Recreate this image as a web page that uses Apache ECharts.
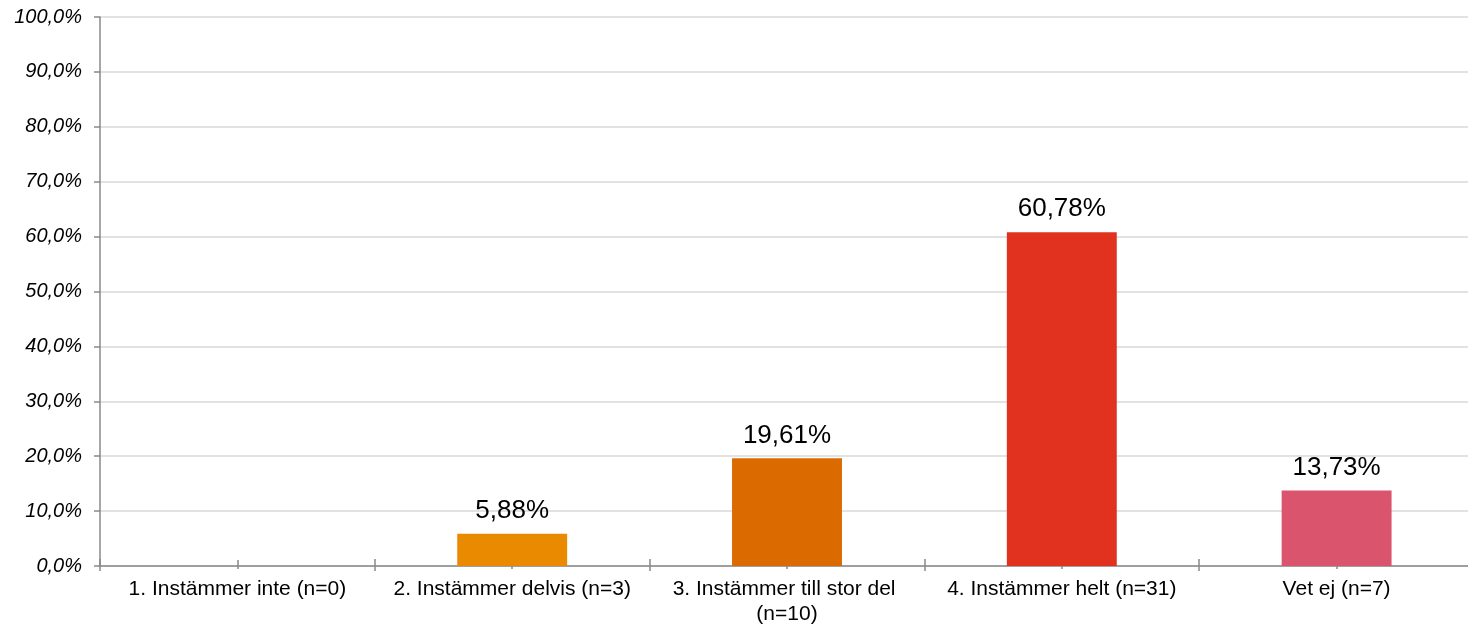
<!DOCTYPE html>
<html>
<head>
<meta charset="utf-8">
<script src="https://cdn.jsdelivr.net/npm/echarts@6/dist/echarts.min.js"></script>
<style>
  html, body { margin: 0; padding: 0; background: #fff; overflow: hidden; }
  /* canvas is a few pixels wider than the page; the plot runs off the right edge */
  #chart { width: 1474px; height: 627px; }
</style>
</head>
<body>
<div id="chart"></div>
<script>
// Answer categories with respondent counts
const categories = [
  '1. Instämmer inte (n=0)',
  '2. Instämmer delvis (n=3)',
  '3. Instämmer till stor del (n=10)',
  '4. Instämmer helt (n=31)',
  'Vet ej (n=7)'
];
// Share of respondents per answer, percent
const shares = [0, 5.88, 19.61, 60.78, 13.73];
// Bar colour per answer
const barColors = ['#EA8A00', '#EA8A00', '#DB6A00', '#E0321F', '#DB546E'];
// Value axis range
const yMin = 0, yMax = 100, yStep = 10;

const FONT = '"Liberation Sans", Arial, sans-serif';
const AXIS_GREY = '#898989';

function commaFixed(v, d) { return v.toFixed(d).replace('.', ','); }

// Extra category axes used only to draw tick marks crossing the baseline
function tickAxis(alignCenter, inside, len) {
  return {
    type: 'category', data: categories, gridIndex: 0, position: 'bottom',
    axisLine: { show: false },
    axisLabel: { show: false },
    splitLine: { show: false },
    axisTick: { show: true, inside: inside, length: len, alignWithLabel: alignCenter,
                interval: 0, lineStyle: { color: AXIS_GREY, width: 1.5 } }
  };
}

const chart = echarts.init(document.getElementById('chart'), null, { renderer: 'canvas' });
chart.setOption({
  animation: false,
  backgroundColor: '#fff',
  grid: { left: 100, right: 0, top: 17, bottom: 61, containLabel: false },
  xAxis: [
    {
      type: 'category', data: categories, position: 'bottom',
      axisLine: { show: true, lineStyle: { color: AXIS_GREY, width: 1.5 } },
      axisTick: { show: true, length: 5, interval: 0, lineStyle: { color: AXIS_GREY, width: 1.5 } },
      axisLabel: {
        interval: 0, margin: 11, color: '#000', fontFamily: FONT, fontSize: 21,
        lineHeight: 25, width: 268, overflow: 'break', align: 'center'
      },
      splitLine: { show: false }
    },
    tickAxis(false, true, 7),
    tickAxis(true, false, 3),
    tickAxis(true, true, 6)
  ],
  yAxis: {
    type: 'value', min: yMin, max: yMax, interval: yStep,
    axisLine: { show: true, lineStyle: { color: AXIS_GREY, width: 1.5 } },
    axisTick: { show: true, length: 6, lineStyle: { color: AXIS_GREY, width: 1.5 } },
    axisLabel: {
      margin: 18, color: '#000', fontFamily: FONT, fontSize: 20, fontStyle: 'italic',
      formatter: v => commaFixed(v, 1) + '%'
    },
    splitLine: { show: true, lineStyle: { color: '#D9D9D9', width: 1.5 } }
  },
  series: [{
    type: 'bar',
    xAxisIndex: 0,
    barWidth: '40%',
    data: shares.map((v, i) => ({ value: v, itemStyle: { color: barColors[i] } })),
    label: {
      show: true, position: 'top', distance: 10,
      color: '#000', fontFamily: FONT, fontSize: 26,
      formatter: p => p.value > 0 ? commaFixed(p.value, 2) + '%' : ''
    }
  }]
});
</script>
</body>
</html>
